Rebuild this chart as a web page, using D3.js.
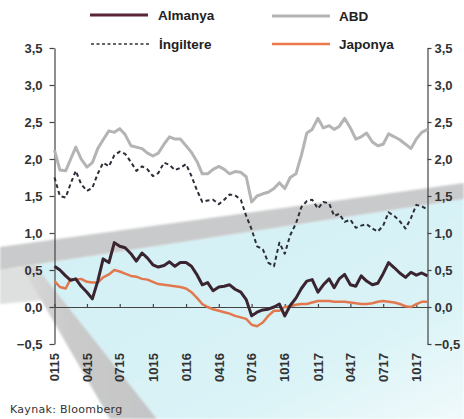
<!DOCTYPE html>
<html>
<head>
<meta charset="utf-8">
<script src="https://cdn.jsdelivr.net/npm/d3@7/dist/d3.min.js"></script>
<style>
  body { margin: 0; background: #fff; }
  svg { display: block; }
</style>
</head>
<body>
<svg id="chart" width="464" height="419"></svg>
<script>
// Semi-monthly observation dates (10-year government bond yields, %)
const dates = [
  "2015-01-01","2015-01-16","2015-02-01","2015-02-15","2015-03-01","2015-03-16",
  "2015-04-01","2015-04-16","2015-05-01","2015-05-16","2015-06-01","2015-06-16",
  "2015-07-01","2015-07-16","2015-08-01","2015-08-16","2015-09-01","2015-09-16",
  "2015-10-01","2015-10-16","2015-11-01","2015-11-16","2015-12-01","2015-12-16",
  "2016-01-01","2016-01-16","2016-02-01","2016-02-15","2016-03-01","2016-03-16",
  "2016-04-01","2016-04-16","2016-05-01","2016-05-16","2016-06-01","2016-06-16",
  "2016-07-01","2016-07-16","2016-08-01","2016-08-16","2016-09-01","2016-09-16",
  "2016-10-01","2016-10-16","2016-11-01","2016-11-16","2016-12-01","2016-12-16",
  "2017-01-01","2017-01-16","2017-02-01","2017-02-15","2017-03-01","2017-03-16",
  "2017-04-01","2017-04-16","2017-05-01","2017-05-16","2017-06-01","2017-06-16",
  "2017-07-01","2017-07-16","2017-08-01","2017-08-16","2017-09-01","2017-09-16",
  "2017-10-01","2017-10-16","2017-11-01"
];

const almanya = [
  0.55,0.50,0.42,0.36,0.38,0.28,0.20,0.11,0.35,0.65,0.60,0.87,
  0.82,0.80,0.72,0.62,0.73,0.66,0.57,0.54,0.56,0.61,0.55,0.60,
  0.60,0.55,0.43,0.30,0.33,0.22,0.27,0.28,0.30,0.24,0.20,0.10,
  -0.12,-0.07,-0.04,-0.03,0.00,0.04,-0.12,0.02,0.12,0.25,0.35,0.37,
  0.20,0.30,0.38,0.26,0.38,0.44,0.30,0.28,0.42,0.35,0.30,0.32,
  0.45,0.60,0.53,0.46,0.40,0.47,0.43,0.46,0.42
];

const abd = [
  2.12,1.85,1.84,2.00,2.16,2.00,1.89,1.95,2.14,2.26,2.38,2.36,
  2.41,2.33,2.18,2.16,2.14,2.08,2.04,2.08,2.20,2.30,2.27,2.27,
  2.18,2.09,1.96,1.80,1.80,1.86,1.90,1.86,1.80,1.83,1.82,1.76,
  1.42,1.50,1.53,1.55,1.60,1.68,1.60,1.75,1.80,2.05,2.35,2.40,
  2.55,2.42,2.45,2.40,2.44,2.55,2.42,2.27,2.30,2.35,2.23,2.18,
  2.20,2.34,2.30,2.26,2.20,2.14,2.27,2.36,2.40
];

const ingiltere = [
  1.75,1.50,1.48,1.67,1.84,1.66,1.57,1.61,1.80,1.95,1.90,2.05,
  2.10,2.07,1.96,1.84,1.90,1.86,1.77,1.81,1.95,1.92,1.85,1.88,
  1.93,1.77,1.57,1.42,1.44,1.45,1.39,1.45,1.52,1.51,1.45,1.23,
  1.05,0.82,0.78,0.60,0.55,0.87,0.72,0.97,1.13,1.35,1.43,1.45,
  1.33,1.42,1.40,1.23,1.26,1.15,1.18,1.07,1.10,1.12,1.06,1.02,
  1.10,1.28,1.23,1.16,1.06,1.20,1.38,1.36,1.32
];

const japonya = [
  0.35,0.27,0.25,0.38,0.37,0.38,0.34,0.33,0.33,0.40,0.44,0.50,
  0.48,0.45,0.42,0.41,0.38,0.37,0.34,0.31,0.30,0.29,0.28,0.27,
  0.25,0.20,0.12,0.04,0.00,-0.03,-0.05,-0.07,-0.09,-0.12,-0.14,-0.16,
  -0.24,-0.26,-0.21,-0.12,-0.05,-0.05,0.00,0.01,0.03,0.04,0.04,0.06,
  0.08,0.08,0.08,0.07,0.07,0.07,0.06,0.05,0.04,0.04,0.05,0.07,
  0.08,0.07,0.06,0.04,0.01,0.00,0.04,0.07,0.07
];

const tickDates = [
  "2015-01-01","2015-04-01","2015-07-01","2015-10-01",
  "2016-01-01","2016-04-01","2016-07-01","2016-10-01",
  "2017-01-01","2017-04-01","2017-07-01","2017-10-01"
];
const tickLabels = ["0115","0415","0715","1015","0116","0416","0716","1016","0117","0417","0717","1017"];
const yTicks = [-0.5, 0, 0.5, 1, 1.5, 2, 2.5, 3, 3.5];
const sourceNote = "Kaynak: Bloomberg";

const parse = d3.utcParse("%Y-%m-%d");
const svg = d3.select("#chart");
const FONT = "'Liberation Sans', Arial, sans-serif";

const x = d3.scaleUtc()
  .domain([parse("2015-01-01"), parse("2017-11-01")])
  .range([54.5, 427.5]);
const y = d3.scaleLinear().domain([-0.5, 3.5]).range([344, 48]);

// ---- decorative background: tilted panel with grey edges ----
const defs = svg.append("defs");
const cyanGrad = defs.append("linearGradient").attr("id", "panel")
  .attr("x1", "0").attr("y1", "0").attr("x2", "1").attr("y2", "1");
cyanGrad.append("stop").attr("offset", "0").attr("stop-color", "#d1f0f5");
cyanGrad.append("stop").attr("offset", "0.7").attr("stop-color", "#daf3f7");
cyanGrad.append("stop").attr("offset", "1").attr("stop-color", "#f0fafb");
const sideGrad = defs.append("linearGradient").attr("id", "side")
  .attr("x1", "0").attr("y1", "0").attr("x2", "1").attr("y2", "0");
sideGrad.append("stop").attr("offset", "0").attr("stop-color", "#d9d9d9");
sideGrad.append("stop").attr("offset", "0.35").attr("stop-color", "#cacaca");
sideGrad.append("stop").attr("offset", "1").attr("stop-color", "#c4c5c6");
defs.append("filter").attr("id", "soft")
  .append("feGaussianBlur").attr("stdDeviation", 0.8);

const bg = svg.append("g").attr("filter", "url(#soft)");
const poly = pts => "M" + pts.map(p => p.join(",")).join("L") + "Z";
bg.append("path").attr("d", poly([[0,270],[26,267],[46,300],[0,304]])).attr("fill", "#dedfdf");
bg.append("path").attr("d", poly([[35,265],[464,199],[464,419],[157,419]])).attr("fill", "url(#panel)");
bg.append("path").attr("d", poly([[22,267],[35,265],[157,419],[110,419]])).attr("fill", "url(#side)");
bg.append("path").attr("d", poly([[0,247],[464,183],[464,199],[0,270]])).attr("fill", "#c9cacb");

// ---- axes ----
const fmt = d => d3.format(".1f")(d).replace(".", ",");
const axisColor = "#444";

const gLeft = svg.append("g").attr("transform", "translate(54.5,0)")
  .call(d3.axisLeft(y).tickValues(yTicks).tickFormat(fmt).tickSize(5).tickSizeOuter(0).tickPadding(7));
const gRight = svg.append("g").attr("transform", "translate(427.5,0)")
  .call(d3.axisRight(y).tickValues(yTicks).tickFormat(fmt).tickSize(4).tickSizeOuter(0).tickPadding(3));
[gLeft, gRight].forEach(g => {
  g.selectAll("path, line").attr("stroke", axisColor).attr("stroke-width", 1.2);
  g.selectAll("text").attr("font-family", FONT).attr("font-weight", "bold")
    .attr("font-size", 13).attr("fill", "#333");
});

// zero line with quarter ticks
const gX = svg.append("g").attr("transform", `translate(0,${y(0)})`)
  .call(d3.axisBottom(x).tickValues(tickDates.map(parse)).tickFormat("").tickSize(-3).tickSizeOuter(0));
gX.selectAll("path, line").attr("stroke", axisColor).attr("stroke-width", 1.2);

// rotated quarter labels below the plot
svg.append("g").selectAll("text").data(tickDates).join("text")
  .attr("transform", d => `translate(${x(parse(d))},353) rotate(-90)`)
  .attr("text-anchor", "end").attr("dy", "0.36em")
  .attr("font-family", FONT).attr("font-weight", "bold").attr("font-size", 13)
  .attr("fill", "#333")
  .text((d, i) => tickLabels[i]);

// ---- series ----
const line = d3.line().x((d, i) => x(parse(dates[i]))).y(d => y(d)).curve(d3.curveLinear);
const series = [
  { name: "ABD", values: abd, color: "#b4b4b4", width: 3, dash: null },
  { name: "İngiltere", values: ingiltere, color: "#2b2e38", width: 2, dash: "4,3" },
  { name: "Japonya", values: japonya, color: "#e2784e", width: 2.5, dash: null },
  { name: "Almanya", values: almanya, color: "#3a2430", width: 3, dash: null }
];
svg.append("g").selectAll("path").data(series).join("path")
  .attr("d", s => line(s.values))
  .attr("fill", "none")
  .attr("stroke", s => s.color)
  .attr("stroke-width", s => s.width)
  .attr("stroke-dasharray", s => s.dash)
  .attr("stroke-linejoin", "round");

// ---- legend ----
const legend = [
  { name: "Almanya", color: "#5a2536", width: 3, dash: null, lx: 90, ly: 15 },
  { name: "ABD", color: "#b4b4b4", width: 3, dash: null, lx: 272, ly: 16 },
  { name: "İngiltere", color: "#333", width: 1.5, dash: "3,2.5", lx: 91, ly: 44 },
  { name: "Japonya", color: "#ee7a4c", width: 2.5, dash: null, lx: 272, ly: 44 }
];
const lg = svg.append("g").selectAll("g").data(legend).join("g");
lg.append("line")
  .attr("x1", d => d.lx).attr("x2", d => d.lx + 58)
  .attr("y1", d => d.ly).attr("y2", d => d.ly)
  .attr("stroke", d => d.color).attr("stroke-width", d => d.width)
  .attr("stroke-dasharray", d => d.dash);
lg.append("text")
  .attr("x", d => d.lx + (d.lx < 200 ? 68 : 67)).attr("y", d => d.ly).attr("dy", "0.36em")
  .attr("font-family", FONT).attr("font-weight", "bold").attr("font-size", 13.5)
  .attr("fill", "#222").text(d => d.name);

// ---- source note ----
svg.append("text").attr("x", 10).attr("y", 413)
  .attr("font-family", "'DejaVu Sans', sans-serif").attr("font-size", 11)
  .attr("letter-spacing", 0.3)
  .attr("fill", "#333").text(sourceNote);
</script>
</body>
</html>
